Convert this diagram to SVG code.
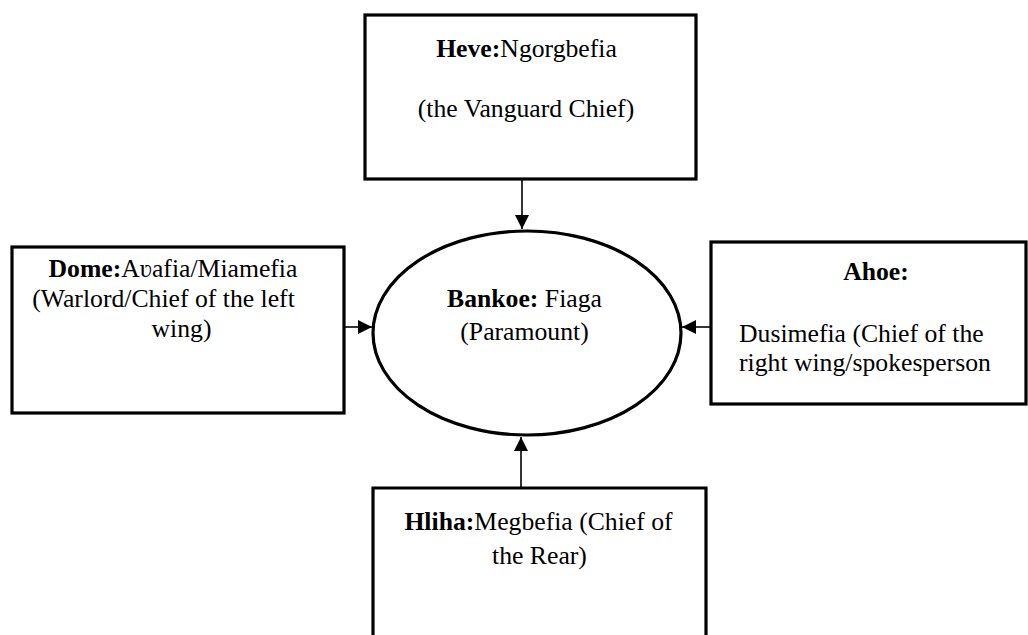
<svg xmlns="http://www.w3.org/2000/svg" width="1028" height="635" viewBox="0 0 1028 635">
<style>
.box{fill:#fff;stroke:#000;stroke-width:3.2}
.t{font-family:"Liberation Serif","Times New Roman",serif;font-size:25.7px;fill:#000}
.b{font-weight:bold}
.m{text-anchor:middle}
.conn{stroke:#000;stroke-width:1.6;fill:none;marker-end:url(#ah)}
</style>
<defs>
<marker id="ah" markerUnits="userSpaceOnUse" markerWidth="15" markerHeight="15" refX="14" refY="7" orient="auto">
<path d="M0,0 L14,7 L0,14 z" fill="#000"/>
</marker>
</defs>
<rect width="1028" height="635" fill="#fff"/>
<g id="connectors">
<line class="conn" x1="522" y1="180" x2="522" y2="229"/>
<line class="conn" x1="344" y1="327" x2="372" y2="327"/>
<line class="conn" x1="711" y1="327" x2="682" y2="327"/>
<line class="conn" x1="521" y1="488" x2="521" y2="437"/>
</g>
<g id="heve">
<rect class="box" x="365" y="15" width="331" height="164"/>
<text class="t m" x="526.5" y="57"><tspan class="b">Heve:</tspan>Ngorgbefia</text>
<text class="t m" x="526" y="117">(the Vanguard Chief)</text>
</g>
<g id="bankoe">
<ellipse cx="527" cy="333" rx="154" ry="102" fill="#fff" stroke="#000" stroke-width="3.2"/>
<text class="t m" x="524.5" y="307"><tspan class="b">Bankoe:</tspan> Fiaga</text>
<text class="t m" x="524.5" y="340">(Paramount)</text>
</g>
<g id="dome">
<rect class="box" x="12" y="247" width="332" height="166"/>
<text class="t m" x="173" y="277"><tspan class="b">Dome:</tspan>Aʋafia/Miamefia</text>
<text class="t m" x="163.5" y="307">(Warlord/Chief of the left</text>
<text class="t m" x="181.5" y="337">wing)</text>
</g>
<g id="ahoe">
<rect class="box" x="711" y="242" width="315" height="162"/>
<text class="t b m" x="876" y="280">Ahoe:</text>
<text class="t" x="739" y="342">Dusimefia (Chief of the</text>
<text class="t" x="739" y="371">right wing/spokesperson</text>
</g>
<g id="hliha">
<path d="M373,640 L373,488 L706,488 L706,640" fill="#fff" stroke="#000" stroke-width="3.2"/>
<text class="t m" x="538.5" y="530"><tspan class="b">Hliha:</tspan>Megbefia (Chief of</text>
<text class="t m" x="539.5" y="564">the Rear)</text>
</g>
</svg>
